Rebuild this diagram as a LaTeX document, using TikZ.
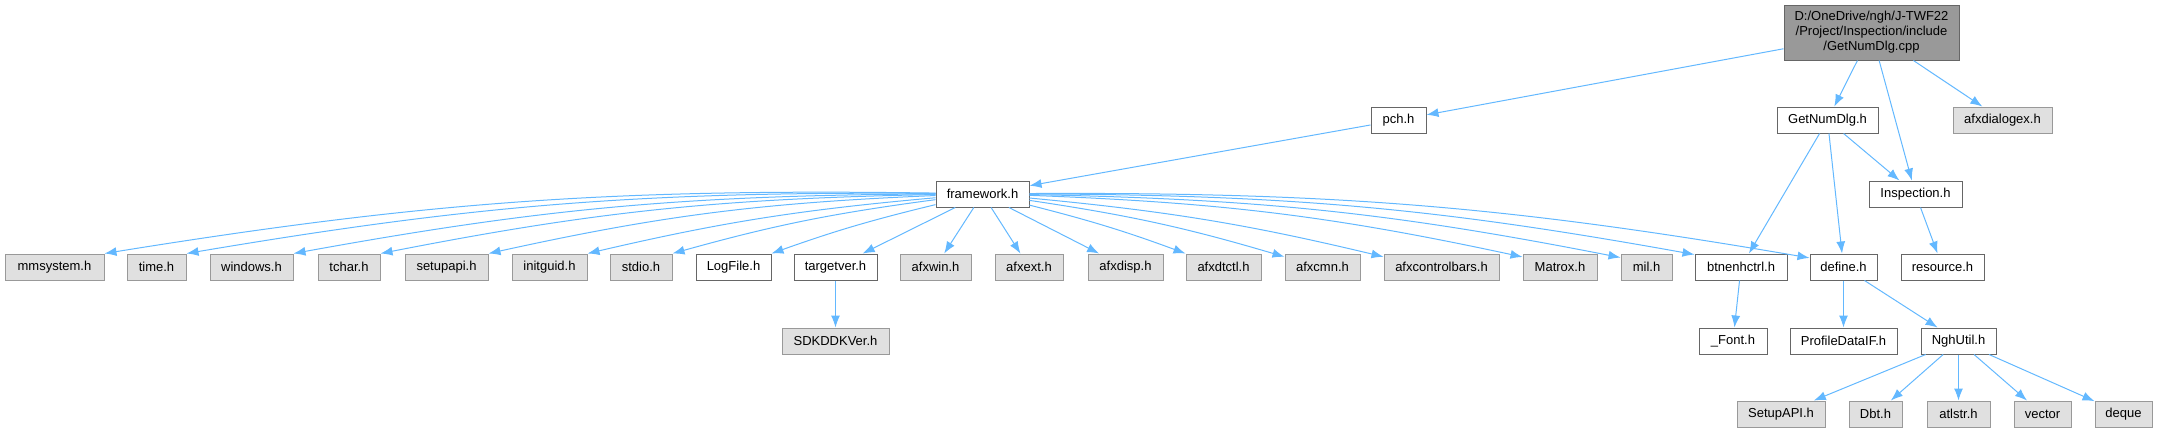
\documentclass[tikz,border=0pt]{standalone}
\usepackage{fontspec}
\setmainfont{Liberation Sans}
\usetikzlibrary{arrows.meta, positioning}

\definecolor{edgeblue}{HTML}{63B8FF}
\definecolor{boxdark}{HTML}{666666}
\definecolor{boxgray}{HTML}{999999}
\definecolor{boxfill}{HTML}{E0E0E0}

\begin{document}
\begin{tikzpicture}[x=1pt, y=-1pt, font=\fontsize{13}{15}\selectfont]
            \tikzstyle{file} = [rectangle, minimum height=26pt, inner sep=0pt, text centered, draw=boxdark, fill=white, line width=1pt]
            \tikzstyle{sysfile} = [file, draw=boxgray, fill=boxfill]
            \tikzstyle{main} = [file, fill=boxgray, minimum height=55pt, align=center]
            \tikzstyle{arrow} = [->, >={Latex[length=12pt,width=9pt]}, draw=edgeblue, line width=1pt]

            \useasboundingbox (0,0) rectangle (2158,432);

            % top file and its includes
            \node (root) [main, minimum width=175pt] at (1871.5,32.5) {D:/OneDrive/ngh/J-TWF22\\/Project/Inspection/include\\/GetNumDlg.cpp};
            \node (pch) [file, minimum width=55pt] at (1398.5,120) {pch.h};
            \node (getnum) [file, minimum width=101pt] at (1827.5,120) {GetNumDlg.h};
            \node (dialogex) [sysfile, minimum width=99pt] at (2002.5,120) {afxdialogex.h};
            \node (framework) [file, minimum width=93pt] at (982.5,194) {framework.h};
            \node (inspection) [file, minimum width=93pt] at (1915.5,194) {Inspection.h};

            % row of headers under framework.h
            \node (mmsystem) [sysfile, minimum width=99pt] at (54.5,267) {mmsystem.h};
            \node (time) [sysfile, minimum width=59pt] at (156.5,267) {time.h};
            \node (windows) [sysfile, minimum width=83pt] at (251.5,267) {windows.h};
            \node (tchar) [sysfile, minimum width=62pt] at (349,267) {tchar.h};
            \node (setupapi) [sysfile, minimum width=83pt] at (446.5,267) {setupapi.h};
            \node (initguid) [sysfile, minimum width=75pt] at (549.5,267) {initguid.h};
            \node (stdio) [sysfile, minimum width=62pt] at (641,267) {stdio.h};
            \node (logfile) [file, minimum width=75pt] at (733.5,267) {LogFile.h};
            \node (targetver) [file, minimum width=83pt] at (835.5,267) {targetver.h};
            \node (afxwin) [sysfile, minimum width=71pt] at (935.5,267) {afxwin.h};
            \node (afxext) [sysfile, minimum width=68pt] at (1029,267) {afxext.h};
            \node (afxdisp) [sysfile, minimum width=75pt] at (1125.5,267) {afxdisp.h};
            \node (afxdtctl) [sysfile, minimum width=75pt] at (1223.5,267) {afxdtctl.h};
            \node (afxcmn) [sysfile, minimum width=75pt] at (1322.5,267) {afxcmn.h};
            \node (ctrlbars) [sysfile, minimum width=115pt] at (1441.5,267) {afxcontrolbars.h};
            \node (matrox) [sysfile, minimum width=74pt] at (1560,267) {Matrox.h};
            \node (mil) [sysfile, minimum width=51pt] at (1646.5,267) {mil.h};
            \node (btnenh) [file, minimum width=92pt] at (1741,267) {btnenhctrl.h};
            \node (define) [file, minimum width=67pt] at (1843.5,267) {define.h};
            \node (resource) [file, minimum width=83pt] at (1942.5,267) {resource.h};

            \node (sdkddk) [sysfile, minimum width=107pt] at (835.5,341) {SDKDDKVer.h};
            \node (font) [file, minimum width=68pt] at (1733,341) {\_Font.h};
            \node (profile) [file, minimum width=107pt] at (1843.5,341) {ProfileDataIF.h};
            \node (nghutil) [file, minimum width=75pt] at (1958.5,341) {NghUtil.h};

            \node (setupapi2) [sysfile, minimum width=88pt] at (1781,414) {SetupAPI.h};
            \node (dbt) [sysfile, minimum width=53pt] at (1875.5,414) {Dbt.h};
            \node (atlstr) [sysfile, minimum width=63pt] at (1958.5,414) {atlstr.h};
            \node (vector) [sysfile, minimum width=57pt] at (2042.5,414) {vector};
            \node (deque) [sysfile, minimum width=57pt] at (2123.5,414) {deque};

            \draw [arrow] (root) -- (pch);
            \draw [arrow] (root) -- (getnum);
            \draw [arrow] (root) -- (inspection);
            \draw [arrow] (root) -- (dialogex);
            \draw [arrow] (pch) -- (framework);
            \draw [arrow] (getnum) -- (inspection);
            \draw [arrow] (getnum) -- (btnenh);
            \draw [arrow] (getnum) -- (define);
            \draw [arrow] (inspection) -- (resource);

            \draw [arrow] (framework) to[bend right=5] (mmsystem.north east);
            \draw [arrow] (framework) to[bend right=5] (time.north east);
            \draw [arrow] (framework) to[bend right=5] (windows.north east);
            \draw [arrow] (framework) to[bend right=5] (tchar.north east);
            \draw [arrow] (framework) to[bend right=5] (setupapi.north east);
            \draw [arrow] (framework) to[bend right=4] (initguid.north east);
            \draw [arrow] (framework) to[bend right=4] (stdio.north east);
            \draw [arrow] (framework) to[bend right=3] (logfile.north east);
            \draw [arrow] (framework) -- (targetver);
            \draw [arrow] (framework) -- (afxwin);
            \draw [arrow] (framework) -- (afxext);
            \draw [arrow] (framework) -- (afxdisp);
            \draw [arrow] (framework) to[bend left=3] (afxdtctl.north west);
            \draw [arrow] (framework) to[bend left=4] (afxcmn.165);
            \draw [arrow] (framework) to[bend left=4] (ctrlbars.170);
            \draw [arrow] (framework) to[bend left=5] (matrox.165);
            \draw [arrow] (framework) to[bend left=5] (mil.160);
            \draw [arrow] (framework) to[bend left=5] (btnenh.165);
            \draw [arrow] (framework) to[bend left=5] (define.165);

            \draw [arrow] (targetver) -- (sdkddk);
            \draw [arrow] (btnenh) -- (font);
            \draw [arrow] (define) -- (profile);
            \draw [arrow] (define) -- (nghutil);
            \draw [arrow] (nghutil) -- (setupapi2);
            \draw [arrow] (nghutil) -- (dbt);
            \draw [arrow] (nghutil) -- (atlstr);
            \draw [arrow] (nghutil) -- (vector);
            \draw [arrow] (nghutil) -- (deque);
        \end{tikzpicture}
\end{document}
